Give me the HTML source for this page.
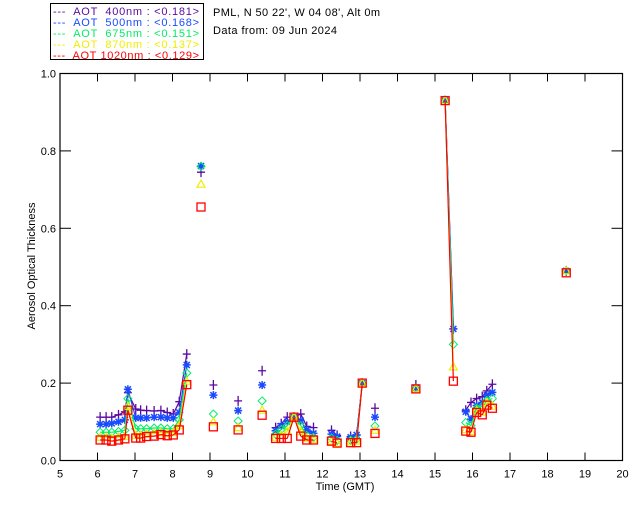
<!DOCTYPE html>
<html><head><meta charset="utf-8"><style>
body{margin:0;background:#fff;width:640px;height:512px;overflow:hidden}
svg{display:block;font-family:"Liberation Sans","DejaVu Sans",sans-serif}
</style></head><body>
<svg id="chart" width="640" height="512" xmlns="http://www.w3.org/2000/svg">
<rect x="0" y="0" width="640" height="512" fill="#fff"/>
<g>
<rect x="50.5" y="3.5" width="153" height="56" fill="#fff" stroke="#000" stroke-width="1"/>
<text x="53" y="15" font-size="11" fill="#5a0aa0" textLength="146" lengthAdjust="spacing" xml:space="preserve">---  AOT  400nm : &lt;0.181&gt;</text>
<text x="53" y="26" font-size="11" fill="#1a4aff" textLength="146" lengthAdjust="spacing" xml:space="preserve">---  AOT  500nm : &lt;0.168&gt;</text>
<text x="53" y="37" font-size="11" fill="#00ee66" textLength="146" lengthAdjust="spacing" xml:space="preserve">---  AOT  675nm : &lt;0.151&gt;</text>
<text x="53" y="48" font-size="11" fill="#eeee00" textLength="146" lengthAdjust="spacing" xml:space="preserve">---  AOT  870nm : &lt;0.137&gt;</text>
<text x="53" y="59" font-size="11" fill="#ff0000" textLength="146" lengthAdjust="spacing" xml:space="preserve">---  AOT 1020nm : &lt;0.129&gt;</text>
</g>
<text x="213" y="16" font-size="11" fill="#000" textLength="167" lengthAdjust="spacing">PML, N 50 22', W 04 08', Alt 0m</text>
<text x="213" y="34" font-size="11" fill="#000" textLength="124" lengthAdjust="spacing">Data from: 09 Jun 2024</text>
<g id="axes"></g>
<g id="series"></g>
<text x="345" y="490" font-size="11" text-anchor="middle">Time (GMT)</text>
<text transform="translate(35,266) rotate(-90)" font-size="11" text-anchor="middle">Aerosol Optical Thickness</text>
</svg>
<script>
const times = [6.07,6.23,6.38,6.56,6.73,6.81,7.02,7.15,7.31,7.51,7.69,7.86,8.02,8.18,8.38, 8.76, 9.09, 9.75, 10.39, 10.75,10.9,11.06,11.24,11.42,11.58,11.76, 12.24,12.39, 12.75,12.91,13.06, 13.4, 14.49, 15.27,15.49, 15.82,15.96,16.11,16.26,16.38,16.53, 18.5];
const aot400 = [.112,.112,.112,.118,.126,.175,.133,.13,.129,.128,.129,.124,.12,.152,.275, .745, .195, .154, .232, .085,.095,.112,.112,.12,.088,.085, .078,.065, .062,.066,.2, .135, .195, .93,.34, .13,.15,.16,.165,.18,.197, .49];
const aot500 = [.094,.094,.096,.1,.105,.184,.11,.11,.11,.112,.112,.11,.11,.124,.247, .761, .169, .129, .195, .077,.089,.1,.112,.103,.079,.07, .068,.062, .06,.066,.2, .112, .188, .93,.34, .126,.107,.142,.15,.169,.176, .49];
const aot675 = [.073,.073,.073,.075,.078,.16,.082,.082,.082,.084,.084,.082,.082,.105,.226, .76, .12, .102, .154, .068,.08,.09,.112,.09,.065,.06, .058,.052, .052,.055,.2, .089, .186, .93,.3, .098,.09,.135,.14,.155,.16, .49];
const aot870 = [.06,.06,.058,.06,.062,.14,.065,.065,.068,.07,.072,.07,.072,.09,.205, .714, .1, .085, .13, .06,.065,.075,.112,.075,.058,.055, .05,.045, .048,.05,.2, .078, .185, .93,.242, .08,.075,.13,.125,.15,.14, .49];
const aot1020 = [.053,.053,.05,.053,.056,.13,.058,.058,.062,.063,.067,.064,.066,.079,.196, .655, .087, .079, .117, .057,.057,.057,.112,.063,.053,.053, .05,.045, .046,.046,.2, .07, .185, .93,.205, .076,.073,.124,.118,.143,.135, .485];
const xTicks = [5,6,7,8,9,10,11,12,13,14,15,16,17,18,19,20];
const yTicks = [0,0.2,0.4,0.6,0.8,1.0];
const yTickLabels = ["0.0","0.2","0.4","0.6","0.8","1.0"];

const NS="http://www.w3.org/2000/svg";
const X0=60, X1=622.5, Y0=460.5, Y1=73.5;
const xs = t => X0 + (t-5)/(20-5)*(X1-X0);
const ys = v => Y0 - v/1.0*(Y0-Y1);
function mk(tag, attrs, parent){const e=document.createElementNS(NS,tag);for(const k in attrs)e.setAttribute(k,attrs[k]);parent.appendChild(e);return e;}
const axes=document.getElementById('axes');
const frame=mk('rect',{x:X0,y:Y1,width:X1-X0,height:Y0-Y1,fill:'none',stroke:'#000','stroke-width':1.2},axes);


xTicks.forEach(t=>{
  const x=xs(t);
  const l=mk('line',{x1:x,y1:Y0,x2:x,y2:Y0-8,stroke:'#000'},axes);
  
  
  const l2=mk('line',{x1:x,y1:Y1,x2:x,y2:Y1+8,stroke:'#000'},axes);
  
  
  const tx=mk('text',{x:x,y:Y0+17,'font-size':11,'text-anchor':'middle'},axes);
  tx.textContent=t;
  
  
});
yTicks.forEach((v,i)=>{
  const y=ys(v);
  const l=mk('line',{x1:X0,y1:y,x2:X0+11,y2:y,stroke:'#000'},axes);
  
  
  const l2=mk('line',{x1:X1,y1:y,x2:X1-11,y2:y,stroke:'#000'},axes);
  
  
  const tx=mk('text',{x:X0-4,y:y+4,'font-size':11,'text-anchor':'end'},axes);
  tx.textContent=yTickLabels[i];
  
  
});
const series=[
  {name:'aot-400',vals:aot400,col:'#5a0aa0',m:'plus'},
  {name:'aot-500',vals:aot500,col:'#1a4aff',m:'star'},
  {name:'aot-675',vals:aot675,col:'#00ee66',m:'diamond'},
  {name:'aot-870',vals:aot870,col:'#eeee00',m:'triangle'},
  {name:'aot-1020',vals:aot1020,col:'#ff0000',m:'square'}
];
const sg=document.getElementById('series');
series.forEach(s=>{
  const g=mk('g',{},sg);
  
  
  for(let i=1;i<times.length;i++){
    if(times[i]-times[i-1]<0.3){
      const l=mk('line',{x1:xs(times[i-1]),y1:ys(s.vals[i-1]),x2:xs(times[i]),y2:ys(s.vals[i]),stroke:s.col,'stroke-width':1.2},g);
      
      
    }
  }
  times.forEach((t,i)=>{
    const x=xs(t), y=ys(s.vals[i]); let e;
    if(s.m==='plus') e=mk('path',{d:`M${x-4},${y}H${x+4}M${x},${y-5}V${y+5}`,stroke:s.col,'stroke-width':1.3,fill:'none'},g);
    else if(s.m==='star') e=mk('path',{d:`M${x-4},${y}H${x+4}M${x},${y-4}V${y+4}M${x-3},${y-3}L${x+3},${y+3}M${x-3},${y+3}L${x+3},${y-3}`,stroke:s.col,'stroke-width':1.5,fill:'none'},g);
    else if(s.m==='diamond') e=mk('path',{d:`M${x},${y-4}L${x+4},${y}L${x},${y+4}L${x-4},${y}Z`,stroke:s.col,'stroke-width':1,fill:'none'},g);
    else if(s.m==='triangle') e=mk('path',{d:`M${x},${y-4}L${x+4},${y+3}L${x-4},${y+3}Z`,stroke:s.col,'stroke-width':1.2,fill:'none'},g);
    else e=mk('rect',{x:x-4,y:y-4,width:8,height:8,stroke:s.col,'stroke-width':1.3,fill:'none'},g);
    
    
  });
});
</script>
</body></html>
